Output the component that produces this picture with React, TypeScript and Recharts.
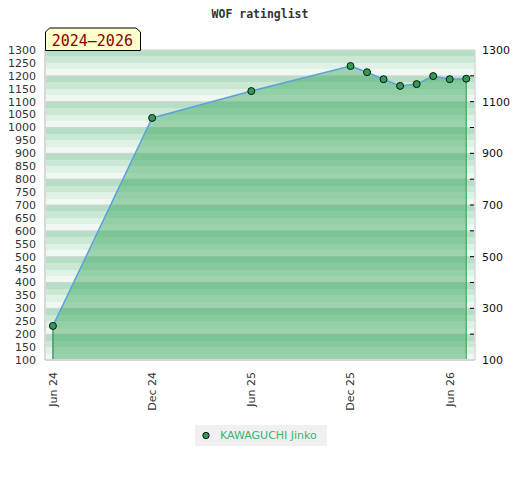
import React from "react";
import {
  ComposedChart,
  Area,
  Line,
  XAxis,
  YAxis,
  CartesianGrid,
  ReferenceLine,
} from "recharts";

const dates = [
  "2024-06",
  "2024-12",
  "2025-06",
  "2025-12",
  "2026-01",
  "2026-02",
  "2026-03",
  "2026-04",
  "2026-05",
  "2026-06",
  "2026-07",
];
const ratings = [232, 1037, 1141, 1238, 1214, 1187, 1161, 1168, 1199, 1187, 1189];

const tickDates = ["2024-06", "2024-12", "2025-06", "2025-12", "2026-06"];
const tickLabels = ["Jun 24", "Dec 24", "Jun 25", "Dec 25", "Jun 26"];

const leftTicks = [
  100, 150, 200, 250, 300, 350, 400, 450, 500, 550, 600, 650, 700, 750, 800,
  850, 900, 950, 1000, 1050, 1100, 1150, 1200, 1250, 1300,
];
const rightTicks = [100, 200, 300, 400, 500, 600, 700, 800, 900, 1000, 1100, 1200, 1300];
const rightLabels = [100, 300, 500, 700, 900, 1100, 1300];
const stripeValues = [
  100, 125, 150, 175, 200, 225, 250, 275, 300, 325, 350, 375, 400, 425, 450, 475,
  500, 525, 550, 575, 600, 625, 650, 675, 700, 725, 750, 775, 800, 825, 850, 875,
  900, 925, 950, 975, 1000, 1025, 1050, 1075, 1100, 1125, 1150, 1175, 1200, 1225,
  1250, 1275, 1300,
];
const gridValues = [200, 300, 400, 500, 600, 700, 800, 900, 1000, 1100, 1200, 1300];
const stripeColors = ["#b6dec4", "#cbe8d5", "#e0f1e6", "#f0f8f2"];

const seriesName = "KAWAGUCHI Jinko";
const title = "WOF ratinglist";
const periodLabel = "2024–2026";

const monthIndex = (d: string) => {
  const [y, m] = d.split("-").map(Number);
  return (y - 2024) * 12 + (m - 6);
};

const data = dates.map((d, i) => ({ m: monthIndex(d), r: ratings[i] }));
const xTicks = tickDates.map(monthIndex);
const labelFor = (v: number) => {
  const i = xTicks.indexOf(v);
  return i >= 0 ? tickLabels[i] : "";
};

const FONT = "'DejaVu Sans', sans-serif";
const MONO = "'DejaVu Sans Mono', monospace";

const LeftTick = (props: any) => {
  const { x, y, payload } = props;
  return (
    <text x={x - 9} y={y} dy="0.35em" textAnchor="end" fontSize={11} fontFamily={FONT} fill="#333">
      {payload.value}
    </text>
  );
};

const RightTick = (props: any) => {
  const { x, y, payload } = props;
  const v = payload.value as number;
  const showDash = v !== 100 && v !== 1300;
  return (
    <g>
      {showDash && <line x1={x - 5} x2={x - 1} y1={y} y2={y} stroke="#000" strokeWidth={1} />}
      {rightLabels.includes(v) && (
        <text x={x + 7} y={y} dy="0.35em" textAnchor="start" fontSize={11} fontFamily={FONT} fill="#111">
          {v}
        </text>
      )}
    </g>
  );
};

const BottomTick = (props: any) => {
  const { x, y, payload } = props;
  return (
    <text
      x={x}
      y={y + 12}
      dy="0.35em"
      transform={`rotate(-90, ${x}, ${y + 12})`}
      textAnchor="end"
      fontSize={11}
      fontFamily={FONT}
      fill="#333"
    >
      {labelFor(payload.value)}
    </text>
  );
};

export default function App() {
  const first = data[0];
  const last = data[data.length - 1];
  return (
    <div style={{ position: "absolute", left: 0, top: 0, width: 520, height: 480, background: "#fff" }}>
      <ComposedChart
        width={520}
        height={480}
        data={data}
        margin={{ top: 50, right: 0, bottom: 0, left: 0 }}
      >
        <CartesianGrid
          horizontalValues={stripeValues}
          vertical={false}
          stroke="none"
          horizontalFill={stripeColors}
          fillOpacity={1}
        />
        <CartesianGrid
          horizontalValues={gridValues}
          vertical={false}
          stroke="#d4d4d4"
          strokeWidth={1}
        />
        <XAxis
          dataKey="m"
          type="number"
          domain={[-0.48, 25.53]}
          ticks={xTicks}
          interval={0}
          height={120}
          tickSize={0}
          tickMargin={0}
          tick={<BottomTick />}
          axisLine={{ stroke: "#d8d8d8", strokeWidth: 2 }}
          tickLine={false}
          allowDataOverflow
        />
        <YAxis
          type="number"
          domain={[100, 1300]}
          ticks={leftTicks}
          interval={0}
          width={45}
          tickSize={0}
          tickMargin={0}
          tick={<LeftTick />}
          axisLine={{ stroke: "#d8d8d8", strokeWidth: 2 }}
          tickLine={false}
          allowDataOverflow
        />
        <YAxis
          yAxisId="right"
          orientation="right"
          type="number"
          domain={[100, 1300]}
          ticks={rightTicks}
          interval={0}
          width={45}
          tickSize={0}
          tickMargin={0}
          tick={<RightTick />}
          axisLine={{ stroke: "#d8d8d8", strokeWidth: 1.5 }}
          tickLine={false}
          allowDataOverflow
        />
        <Area
          type="linear"
          dataKey="r"
          baseValue={100}
          fill="#2fa457"
          fillOpacity={0.44}
          stroke="none"
          isAnimationActive={false}
          dot={false}
          activeDot={false}
        />
        <ReferenceLine
          segment={[
            { x: first.m, y: 100 },
            { x: first.m, y: first.r },
          ]}
          stroke="#2a8c4e"
          strokeWidth={1.2}
        />
        <ReferenceLine
          segment={[
            { x: last.m, y: 100 },
            { x: last.m, y: last.r },
          ]}
          stroke="#33b05c"
          strokeWidth={1.2}
        />
        <Line
          type="linear"
          dataKey="r"
          name={seriesName}
          stroke="#5ba3dc"
          strokeWidth={1.5}
          dot={{ r: 3.5, fill: "#2e9d55", stroke: "#111", strokeWidth: 1, fillOpacity: 1 }}
          activeDot={false}
          isAnimationActive={false}
        />
      </ComposedChart>
      <svg
        width={520}
        height={480}
        style={{ position: "absolute", left: 0, top: 0, pointerEvents: "none" }}
      >
        <text
          x={260}
          y={17.5}
          textAnchor="middle"
          fontSize={11.5}
          fontWeight="bold"
          fontFamily={MONO}
          fill="#333"
        >
          {title}
        </text>
        <path
          d="M45.5,50.5 L45.5,32 L49.5,28 L136,28 L140.5,32 L140.5,50.5 Z"
          fill="#ffffcc"
          stroke="#000"
          strokeWidth={1}
        />
        <text x={51.7} y={45.7} fontSize={15} fontFamily={MONO} fill="#8b0000">
          {periodLabel}
        </text>
      </svg>
      <div
        style={{
          position: "absolute",
          left: 195,
          top: 425,
          width: 132,
          height: 21,
          background: "#f0f0f0",
          display: "flex",
          alignItems: "center",
          fontFamily: FONT,
          fontSize: 11,
          color: "#3cb371",
        }}
      >
        <svg width={25} height={21} style={{ flex: "none" }}>
          <circle cx={11} cy={10.5} r={3.2} fill="#2e9d55" stroke="#111" strokeWidth={1} />
        </svg>
        <span style={{ whiteSpace: "nowrap" }}>{seriesName}</span>
      </div>
    </div>
  );
}
